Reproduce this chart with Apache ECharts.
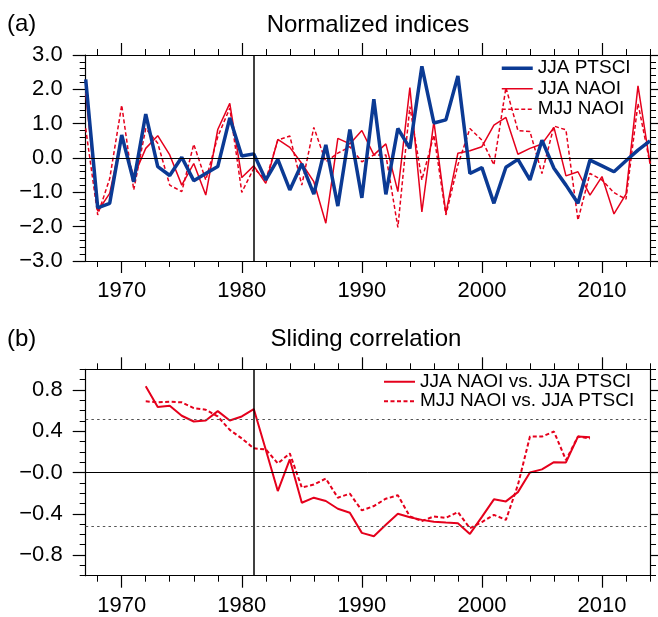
<!DOCTYPE html>
<html><head><meta charset="utf-8">
<script src="https://cdn.jsdelivr.net/npm/echarts@6/dist/echarts.min.js"></script>
<style>html,body{margin:0;padding:0;background:#fff}#c{width:658px;height:617px}</style>
</head><body><div id="c"></div>
<script>
// ---------- data ----------
const yearsA = [1967,1968,1969,1970,1971,1972,1973,1974,1975,1976,1977,1978,1979,1980,1981,1982,1983,1984,1985,1986,1987,1988,1989,1990,1991,1992,1993,1994,1995,1996,1997,1998,1999,2000,2001,2002,2003,2004,2005,2006,2007,2008,2009,2010,2011,2012,2013,2014];
const ptsci = [2.29,-1.45,-1.32,0.67,-0.69,1.28,-0.25,-0.51,0.02,-0.66,-0.45,-0.25,1.17,0.06,0.12,-0.64,-0.04,-0.93,-0.17,-1.05,0.38,-1.40,0.83,-1.16,1.71,-1.06,0.86,0.28,2.67,1.02,1.11,2.39,-0.45,-0.28,-1.32,-0.27,-0.04,-0.64,0.52,-0.30,-0.79,-1.32,-0.06,-0.23,-0.40,-0.08,0.23,0.50];
const jjaNaoi = [1.90,-1.55,-1.03,0.62,-0.54,0.28,0.65,0.09,-0.79,-0.16,-1.08,0.83,1.59,-0.57,-0.23,-0.74,0.54,0.31,-0.16,-0.69,-1.90,0.57,0.41,0.80,0.09,0.41,-0.98,2.05,-1.57,1.06,-1.61,0.14,0.21,0.33,0.96,1.18,0.11,0.28,0.41,0.89,-0.52,-0.40,-1.08,-0.54,-1.63,-1.05,2.10,-0.16];
const mjjNaoi = [0.86,-1.66,-0.60,1.54,-0.93,0.86,0.43,-0.79,-0.98,0.40,-0.64,0.62,1.45,-1.00,-0.30,-0.64,0.52,0.64,-0.79,0.89,-0.11,0.14,0.33,-0.11,0.09,0.09,-2.02,1.50,-0.64,0.67,-1.66,-0.20,0.86,0.52,-0.20,2.05,0.80,0.77,-0.45,0.93,0.82,-1.81,-0.45,-0.64,-1.01,-1.20,1.59,-0.16];

const yearsB = [1972,1973,1974,1975,1976,1977,1978,1979,1980,1981,1982,1983,1984,1985,1986,1987,1988,1989,1990,1991,1992,1993,1994,1995,1996,1997,1998,1999,2000,2001,2002,2003,2004,2005,2006,2007,2008,2009];
const corrJJA = [0.836,0.634,0.647,0.55,0.494,0.504,0.595,0.504,0.543,0.615,0.22,-0.18,0.127,-0.293,-0.244,-0.276,-0.351,-0.39,-0.585,-0.618,-0.507,-0.40,-0.433,-0.459,-0.478,-0.485,-0.491,-0.595,-0.43,-0.26,-0.28,-0.19,0.0,0.03,0.10,0.098,0.348,0.341];
const corrMJJ = [0.69,0.68,0.686,0.68,0.624,0.608,0.543,0.413,0.33,0.234,0.224,0.088,0.185,-0.146,-0.117,-0.059,-0.244,-0.205,-0.367,-0.325,-0.254,-0.221,-0.426,-0.47,-0.426,-0.44,-0.384,-0.54,-0.48,-0.41,-0.459,-0.12,0.348,0.348,0.397,0.12,0.348,0.33];

const splitYear = [1981];
const sigLevel = [0.52, -0.52];

const xMajorTicks = [1970,1980,1990,2000,2010];
const xMinorTicks = [1968,1972,1974,1976,1978,1982,1984,1986,1988,1992,1994,1996,1998,2002,2004,2006,2008,2012,2014];
const yMajorA = [-3,-2,-1,0,1,2,3];
const yMinorA = [-2.8,-2.6,-2.4,-2.2,-1.8,-1.6,-1.4,-1.2,-0.8,-0.6,-0.4,-0.2,0.2,0.4,0.6,0.8,1.2,1.4,1.6,1.8,2.2,2.4,2.6,2.8];
const yMajorB = [-0.8,-0.4,0,0.4,0.8];
const yMinorB = [-1.0,-0.9,-0.7,-0.6,-0.5,-0.3,-0.2,-0.1,0.1,0.2,0.3,0.5,0.6,0.7,0.9,1.0];

const titles = ['Normalized indices','Sliding correlation'];
const panelTags = ['(a)','(b)'];
const legendA = ['JJA PTSCI','JJA NAOI','MJJ NAOI'];
const legendB = ['JJA NAOI vs. JJA PTSCI','MJJ NAOI vs. JJA PTSCI'];

// ---------- styles ----------
const FONT = 'Liberation Sans, Arial, Helvetica, sans-serif';
const RED = '#e5001c';
const BLUE = '#0b3a94';
const AX = '#000';
const dashR = [4, 2.5];
const NOSYM = {color:'rgba(0,0,0,0)', borderWidth:0, opacity:0};

function zip(xs, ys){ return xs.map((x,i)=>[x, ys[i]]); }
function fmtX(v){ return String(Math.round(v)); }
function fmtA(v){ return (v<0?'\u2212':'') + Math.abs(v).toFixed(1); }
function fmtB(v){ return (v<=0?'\u2212':'') + Math.abs(v).toFixed(1); }

function xAxes(g){
  const base = {type:'value', gridIndex:g, min:1967, max:2014, splitLine:{show:false}};
  const line = {show:true, onZero:false, lineStyle:{color:AX, width:1.2}};
  const noLine = {show:false, onZero:false};
  return [
    Object.assign({}, base, {position:'bottom', axisLine:line,
      axisTick:{show:true, inside:false, customValues:xMajorTicks, length:12, lineStyle:{color:AX,width:1.2}},
      axisLabel:{show:true, customValues:xMajorTicks, fontSize:22, margin:19, color:'#000', fontFamily:FONT, formatter:fmtX}}),
    Object.assign({}, base, {position:'bottom', axisLine:noLine,
      axisTick:{show:true, inside:false, customValues:xMinorTicks, length:6, lineStyle:{color:AX,width:1}},
      axisLabel:{show:false}}),
    Object.assign({}, base, {position:'top', axisLine:line,
      axisTick:{show:true, inside:false, customValues:xMajorTicks, length:12, lineStyle:{color:AX,width:1.2}},
      axisLabel:{show:false}}),
    Object.assign({}, base, {position:'top', axisLine:noLine,
      axisTick:{show:true, inside:false, customValues:xMinorTicks, length:6, lineStyle:{color:AX,width:1}},
      axisLabel:{show:false}})
  ];
}
function yAxes(g, mn, mx, major, minor, fmt){
  const base = {type:'value', gridIndex:g, min:mn, max:mx, splitLine:{show:false}};
  const line = {show:true, onZero:false, lineStyle:{color:AX, width:1.2}};
  const noLine = {show:false, onZero:false};
  return [
    Object.assign({}, base, {position:'left', axisLine:line,
      axisTick:{show:true, inside:false, customValues:major, length:13, lineStyle:{color:AX,width:1.2}},
      axisLabel:{show:true, customValues:major, fontSize:22, margin:23, color:'#000', fontFamily:FONT, formatter:fmt}}),
    Object.assign({}, base, {position:'left', axisLine:noLine,
      axisTick:{show:true, inside:false, customValues:minor, length:6, lineStyle:{color:AX,width:1}},
      axisLabel:{show:false}}),
    Object.assign({}, base, {position:'right', axisLine:line,
      axisTick:{show:true, inside:false, customValues:major, length:13, lineStyle:{color:AX,width:1.2}},
      axisLabel:{show:false}}),
    Object.assign({}, base, {position:'right', axisLine:noLine,
      axisTick:{show:true, inside:false, customValues:minor, length:6, lineStyle:{color:AX,width:1}},
      axisLabel:{show:false}})
  ];
}

const refLineA = {
  silent:true, symbol:'none', label:{show:false}, animation:false,
  data:[
    {yAxis:0, lineStyle:{color:'#000', width:1, type:'solid'}},
    {xAxis:splitYear[0], lineStyle:{color:'#000', width:1.5, type:'solid'}}
  ]
};
const refLineB = {
  silent:true, symbol:'none', label:{show:false}, animation:false,
  data:[
    {yAxis:0, lineStyle:{color:'#000', width:1, type:'solid'}},
    {xAxis:splitYear[0], lineStyle:{color:'#000', width:1.5, type:'solid'}},
    {yAxis:sigLevel[0], lineStyle:{color:'#555', width:1.2, type:[2.5,3.2]}},
    {yAxis:sigLevel[1], lineStyle:{color:'#555', width:1.2, type:[2.5,3.2]}}
  ]
};

const option = {
  animation:false,
  backgroundColor:'#fff',
  textStyle:{fontFamily:FONT, color:'#000'},
  grid:[
    {left:85.7, top:55, width:564.3, height:206, containLabel:false, outerBoundsMode:'none'},
    {left:85.7, top:369.3, width:564.3, height:206.4, containLabel:false, outerBoundsMode:'none'}
  ],
  xAxis: xAxes(0).concat(xAxes(1)),
  yAxis: yAxes(0,-3,3,yMajorA,yMinorA,fmtA).concat(yAxes(1,-1,1,yMajorB,yMinorB,fmtB)),
  legend:[
    {orient:'vertical', left:500, top:58, padding:0, itemGap:0, itemWidth:31, itemHeight:14,
     textStyle:{fontSize:19, lineHeight:20.5, color:'#000', fontFamily:FONT},
     itemStyle:NOSYM,
     data:[
       {name:legendA[0], itemStyle:NOSYM, lineStyle:{width:3.5, color:BLUE, type:'solid'}},
       {name:legendA[1], itemStyle:NOSYM, lineStyle:{width:1.5, color:RED, type:'solid'}},
       {name:legendA[2], itemStyle:NOSYM, lineStyle:{width:1.5, color:RED, type:dashR}}
     ], selectedMode:false},
    {orient:'vertical', left:383, top:372, padding:0, itemGap:0, itemWidth:31, itemHeight:14,
     textStyle:{fontSize:19, lineHeight:19.5, color:'#000', fontFamily:FONT},
     itemStyle:NOSYM,
     data:[
       {name:legendB[0], itemStyle:NOSYM, lineStyle:{width:2, color:RED, type:'solid'}},
       {name:legendB[1], itemStyle:NOSYM, lineStyle:{width:2, color:RED, type:dashR}}
     ], selectedMode:false}
  ],
  graphic:[
    {type:'text', left:7, top:12, style:{text:panelTags[0], font:'24px '+FONT, fill:'#000'}},
    {type:'text', x:368, y:25, style:{text:titles[0], font:'24px '+FONT, fill:'#000', textAlign:'center', textVerticalAlign:'middle'}},
    {type:'text', left:7, top:327, style:{text:panelTags[1], font:'24px '+FONT, fill:'#000'}},
    {type:'text', x:366, y:339.5, style:{text:titles[1], font:'24px '+FONT, fill:'#000', textAlign:'center', textVerticalAlign:'middle'}}
  ],
  series:[
    {type:'line', name:legendA[1], xAxisIndex:0, yAxisIndex:0, data:zip(yearsA,jjaNaoi), symbol:'none', showSymbol:false,
     lineStyle:{color:RED, width:1.5}, itemStyle:{color:RED}, z:2, markLine:refLineA},
    {type:'line', name:legendA[2], xAxisIndex:0, yAxisIndex:0, data:zip(yearsA,mjjNaoi), symbol:'none', showSymbol:false,
     lineStyle:{color:RED, width:1.5, type:dashR}, itemStyle:{color:RED}, z:2},
    {type:'line', name:legendA[0], xAxisIndex:0, yAxisIndex:0, data:zip(yearsA,ptsci), symbol:'none', showSymbol:false,
     lineStyle:{color:BLUE, width:3.5}, itemStyle:{color:BLUE}, z:3},
    {type:'line', name:legendB[0], xAxisIndex:4, yAxisIndex:4, data:zip(yearsB,corrJJA), symbol:'none', showSymbol:false,
     lineStyle:{color:RED, width:2}, itemStyle:{color:RED}, z:3, markLine:refLineB},
    {type:'line', name:legendB[1], xAxisIndex:4, yAxisIndex:4, data:zip(yearsB,corrMJJ), symbol:'none', showSymbol:false,
     lineStyle:{color:RED, width:2, type:dashR}, itemStyle:{color:RED}, z:3}
  ]
};
const chart = echarts.init(document.getElementById('c'), null, {renderer:'canvas'});
chart.setOption(option);
</script></body></html>
